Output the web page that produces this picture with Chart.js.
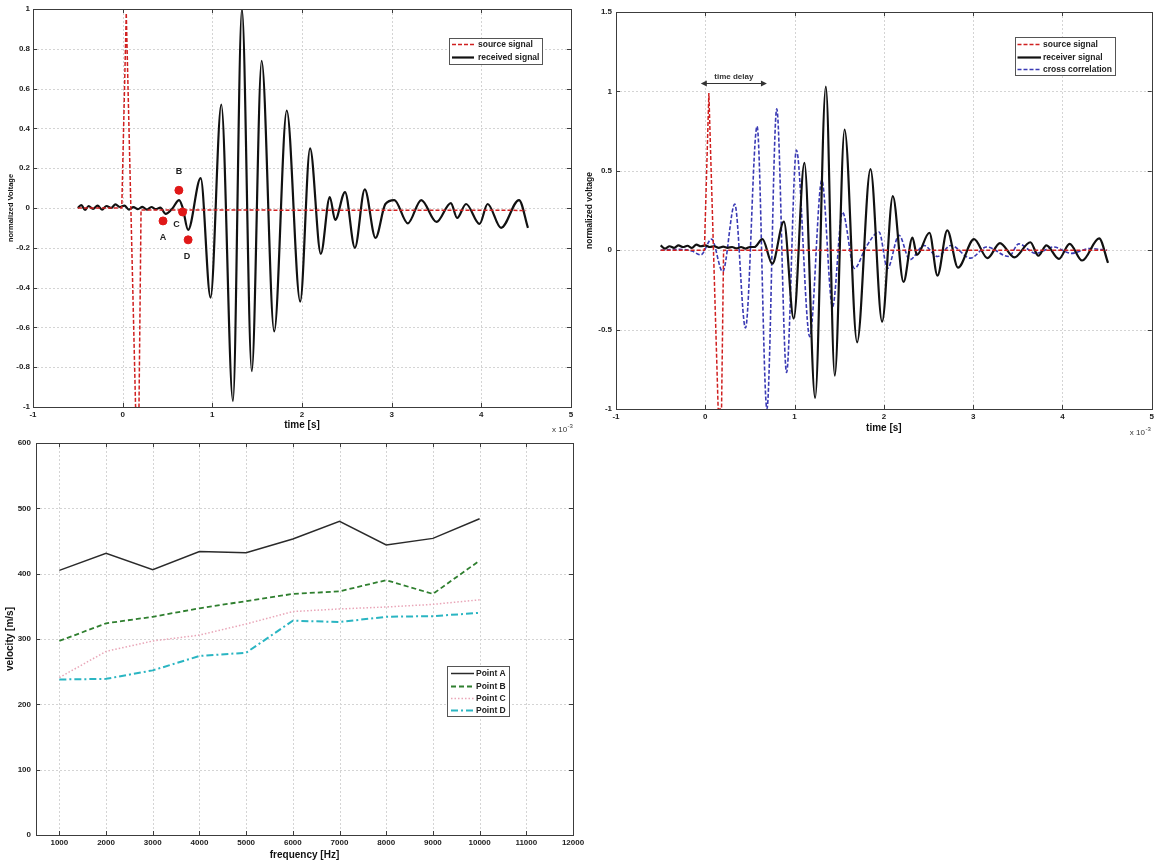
<!DOCTYPE html>
<html><head><meta charset="utf-8">
<script src="https://cdn.jsdelivr.net/npm/chart.js@4/dist/chart.umd.min.js"></script>
<style>
html,body{margin:0;padding:0;background:#fff;width:1157px;height:860px;overflow:hidden;}
canvas{position:absolute;display:block;}
</style></head><body>
<canvas id="c1" width="580" height="440" style="left:0;top:0"></canvas>
<canvas id="c2" width="577" height="440" style="left:580px;top:0"></canvas>
<canvas id="c3" width="600" height="430" style="left:0;top:430px"></canvas>
<script>
// ---------- DATA (time in units of 10^-3 s) ----------
const timeTicks = [-1, 0, 1, 2, 3, 4, 5];
const volt1Ticks = [-1, -0.8, -0.6, -0.4, -0.2, 0, 0.2, 0.4, 0.6, 0.8, 1];
const volt1Labels = ['-1', '-0.8', '-0.6', '-0.4', '-0.2', '0', '0.2', '0.4', '0.6', '0.8', '1'];
const volt2Ticks = [-1, -0.5, 0, 0.5, 1, 1.5];
const volt2Labels = ['-1', '-0.5', '0', '0.5', '1', '1.5'];

// top-left: source signal (leaves the plot at -1 between 0.144 and 0.182)
const src1T = [-0.5, -0.01, 0.04, 0.144, 0.182, 0.205, 4.5];
const src1V = [0, 0, 0.98, -1, -1, -0.01, -0.012];
// top-left: received signal (read extrema)
const recv1T = [-0.50,-0.46,-0.42,-0.38,-0.33,-0.28,-0.23,-0.18,-0.13,-0.08,-0.03,0.02,0.07,0.12,0.17,0.22,0.27,0.32,0.37,0.42,0.48,0.55,0.63,0.67,0.73,0.87,0.98,1.10,1.23,1.33,1.44,1.55,1.69,1.83,1.98,2.09,2.21,2.31,2.37,2.48,2.59,2.70,2.82,2.93,3.03,3.18,3.33,3.50,3.66,3.73,3.83,3.98,4.07,4.22,4.42,4.52];
const recv1V = [0.00,0.015,-0.01,0.01,-0.005,0.012,-0.008,0.01,0.0,0.018,0.005,0.012,-0.008,0.004,-0.006,0.006,-0.008,0.005,-0.006,0.002,-0.03,-0.005,0.04,0.0,-0.11,0.15,-0.45,0.52,-0.97,1.0,-0.82,0.74,-0.62,0.49,-0.47,0.30,-0.23,0.055,-0.06,0.08,-0.20,0.094,-0.15,0.02,0.04,-0.077,0.04,-0.07,0.025,-0.05,0.02,-0.08,0.02,-0.10,0.04,-0.10];
// marked points A-D
const markerT = [0.45, 0.627, 0.668, 0.73];
const markerV = [-0.065, 0.089, -0.02, -0.16];
const markerLabels = ['A', 'B', 'C', 'D'];

// top-right: source, receiver, cross correlation
const src2T = [-0.5, -0.01, 0.04, 0.144, 0.182, 0.205, 4.5];
const src2V = [0, 0, 0.99, -1, -1, 0, 0];
const recv2T = [-0.50,-0.45,-0.40,-0.35,-0.30,-0.25,-0.20,-0.15,-0.10,-0.05,0.00,0.05,0.10,0.15,0.20,0.25,0.30,0.35,0.40,0.45,0.50,0.55,0.64,0.75,0.88,0.99,1.11,1.23,1.35,1.45,1.56,1.70,1.85,1.98,2.10,2.22,2.32,2.37,2.51,2.60,2.71,2.83,3.01,3.16,3.30,3.46,3.64,3.73,3.82,3.96,4.08,4.22,4.41,4.51];
const recv2V = [0.03,0.01,0.025,0.015,0.03,0.02,0.028,0.015,0.035,0.025,0.03,0.02,0.025,0.015,0.022,0.015,0.02,0.012,0.02,0.01,0.02,0.02,0.07,-0.085,0.18,-0.43,0.55,-0.93,1.03,-0.79,0.76,-0.58,0.51,-0.45,0.34,-0.20,0.08,-0.03,0.11,-0.16,0.125,-0.11,0.07,-0.05,0.045,-0.045,0.05,-0.035,0.03,-0.055,0.04,-0.065,0.075,-0.08];
const xcorrT = [-0.50,-0.30,-0.15,-0.05,0.07,0.195,0.33,0.45,0.58,0.69,0.80,0.91,1.02,1.17,1.305,1.425,1.536,1.67,1.80,1.946,2.04,2.17,2.29,2.45,2.60,2.75,2.97,3.15,3.40,3.51,3.70,3.90,4.10,4.30,4.50];
const xcorrV = [0.0,0.005,-0.005,-0.03,0.07,-0.135,0.29,-0.49,0.78,-1.0,0.89,-0.77,0.63,-0.545,0.44,-0.357,0.24,-0.115,0.02,0.115,-0.115,0.094,-0.06,0.03,-0.04,0.03,-0.05,0.02,-0.04,0.04,-0.02,0.02,-0.02,0.01,0.0];
const delayRange = [-0.05, 0.69];
const delayLevel = 1.05;
const delayText = 'time delay';

// bottom: velocity vs frequency
const freqTicks = [1000,2000,3000,4000,5000,6000,7000,8000,9000,10000,11000,12000];
const velTicks = [0, 100, 200, 300, 400, 500, 600];
const frequencies = [1000,2000,3000,4000,5000,6000,7000,8000,9000,10000];
const pointA = [405, 431, 406, 434, 432, 453, 480, 444, 454, 484];
const pointB = [297, 324, 334, 347, 358, 369, 373, 390, 369, 420];
const pointC = [241, 281, 297, 306, 323, 342, 346, 349, 353, 360];
const pointD = [238, 239, 252, 274, 279, 328, 326, 334, 335, 340];

// ---------- HELPERS ----------
const FONT = '"Liberation Sans", Arial, Helvetica, sans-serif';
Chart.defaults.font.family = FONT;
const pts = (xs, ys) => xs.map((x, i) => ({x: x, y: ys[i]}));
const noCache = {borderColor: () => undefined};   // forces direct stroking of each line

function makeGrid() { return { id: 'dotGrid', beforeDatasetsDraw(chart) {
    const {ctx, chartArea} = chart; const {left, top, right, bottom} = chartArea;
    const xs = chart.scales.x, ys = chart.scales.y;
    ctx.save(); ctx.strokeStyle = '#d4d4d4'; ctx.lineWidth = 1; ctx.setLineDash([2, 2]);
    ctx.beginPath();
    xs.ticks.forEach(t => { const p = Math.round(xs.getPixelForValue(t.value)) + 0.5; ctx.moveTo(p, top); ctx.lineTo(p, bottom); });
    ys.ticks.forEach(t => { const p = Math.round(ys.getPixelForValue(t.value)) + 0.5; ctx.moveTo(left, p); ctx.lineTo(right, p); });
    ctx.stroke(); ctx.setLineDash([]); ctx.restore(); } }; }

function makeFrame() { return { id: 'frame', afterDatasetsDraw(chart) {
    const {ctx, chartArea} = chart; const {left, top, right, bottom} = chartArea;
    const xs = chart.scales.x, ys = chart.scales.y;
    ctx.save(); ctx.setLineDash([]); ctx.strokeStyle = '#3c3c3c'; ctx.lineWidth = 1; ctx.beginPath();
    xs.ticks.forEach(t => { const p = Math.round(xs.getPixelForValue(t.value)) + 0.5; ctx.moveTo(p, bottom); ctx.lineTo(p, bottom - 4); ctx.moveTo(p, top); ctx.lineTo(p, top + 4); });
    ys.ticks.forEach(t => { const p = Math.round(ys.getPixelForValue(t.value)) + 0.5; ctx.moveTo(left, p); ctx.lineTo(left + 4, p); ctx.moveTo(right, p); ctx.lineTo(right - 4, p); });
    ctx.stroke();
    ctx.strokeRect(Math.round(left) + 0.5, Math.round(top) + 0.5, Math.round(right - left), Math.round(bottom - top));
    ctx.restore(); } }; }

function makeLegend(o) { return { id: 'boxLegend', afterDraw(chart) {
    const ctx = chart.ctx; ctx.save(); ctx.setLineDash([]);
    ctx.fillStyle = '#fff'; ctx.fillRect(o.x, o.y, o.w, o.h);
    ctx.strokeStyle = '#555'; ctx.lineWidth = 1; ctx.strokeRect(o.x + 0.5, o.y + 0.5, o.w, o.h);
    ctx.font = 'bold ' + o.fontSize + 'px ' + FONT; ctx.textBaseline = 'middle'; ctx.textAlign = 'left';
    chart.data.datasets.filter(d => d.inLegend).forEach((d, i) => {
      const yy = Math.round(o.y + o.first + i * o.step) + 0.5;
      ctx.strokeStyle = d.borderColor; ctx.lineWidth = d.borderWidth; ctx.setLineDash(d.borderDash || []);
      ctx.beginPath(); ctx.moveTo(o.x + o.lineX0, yy); ctx.lineTo(o.x + o.lineX1, yy); ctx.stroke();
      ctx.setLineDash([]); ctx.fillStyle = '#222'; ctx.fillText(d.label, o.x + o.textX, yy);
    });
    ctx.restore(); } }; }

function makeExpo(dx, dy) { return { id: 'expo', afterDraw(chart) {
    const {ctx, chartArea} = chart; const x = chartArea.right + dx, y = chartArea.bottom + dy;
    ctx.save(); ctx.fillStyle = '#333'; ctx.textBaseline = 'middle'; ctx.textAlign = 'left';
    ctx.font = '8px ' + FONT; ctx.fillText('x 10', x, y);
    const w = ctx.measureText('x 10').width; ctx.font = '6px ' + FONT; ctx.fillText('-3', x + w + 0.5, y - 4);
    ctx.restore(); } }; }

function makeTags(dsIndex, labels, offsets) { return { id: 'tags', afterDatasetsDraw(chart) {
    const meta = chart.getDatasetMeta(dsIndex); const ctx = chart.ctx;
    ctx.save(); ctx.font = 'bold 9px ' + FONT; ctx.fillStyle = '#222'; ctx.textAlign = 'center'; ctx.textBaseline = 'middle';
    meta.data.forEach((el, i) => ctx.fillText(labels[i], el.x + offsets[i][0], el.y + offsets[i][1]));
    ctx.restore(); } }; }

function makeDelay(range, level, text) { return { id: 'delay', afterDatasetsDraw(chart) {
    const {ctx} = chart; const xs = chart.scales.x, ys = chart.scales.y;
    const x0 = xs.getPixelForValue(range[0]), x1 = xs.getPixelForValue(range[1]);
    const yy = Math.round(ys.getPixelForValue(level)) + 0.5;
    ctx.save(); ctx.setLineDash([]); ctx.strokeStyle = '#333'; ctx.fillStyle = '#333'; ctx.lineWidth = 1;
    ctx.beginPath(); ctx.moveTo(x0 + 2, yy); ctx.lineTo(x1 - 2, yy); ctx.stroke();
    ctx.beginPath(); ctx.moveTo(x0, yy); ctx.lineTo(x0 + 6, yy - 3); ctx.lineTo(x0 + 6, yy + 3); ctx.closePath(); ctx.fill();
    ctx.beginPath(); ctx.moveTo(x1, yy); ctx.lineTo(x1 - 6, yy - 3); ctx.lineTo(x1 - 6, yy + 3); ctx.closePath(); ctx.fill();
    ctx.font = 'bold 8px ' + FONT; ctx.textAlign = 'center'; ctx.textBaseline = 'middle';
    ctx.fillText(text, (x0 + x1) / 2, yy - 7);
    ctx.restore(); } }; }

function axis(opts) {
  return {
    type: 'linear', min: opts.min, max: opts.max,
    afterBuildTicks: s => { s.ticks = opts.ticks.map(v => ({value: v})); },
    afterFit: s => { if (opts.width) s.width = opts.width; if (opts.height) s.height = opts.height; },
    ticks: { autoSkip: false, maxRotation: 0, padding: opts.tickPad, color: '#222',
      font: {size: 8, weight: 'bold'},
      callback: (v, i) => opts.labels ? opts.labels[i] : String(v) },
    grid: {display: false, drawTicks: false},
    border: {display: false},
    title: { display: true, text: opts.title, color: '#111',
      font: {size: opts.titleSize, weight: 'bold', lineHeight: opts.titleLH || 1.2}, padding: opts.titlePad }
  };
}
const basePlugins = () => ({legend: {display: false}, tooltip: {enabled: false}, colors: {enabled: false}});

// ---------- CHART 1 ----------
new Chart(document.getElementById('c1'), {
  type: 'line',
  data: { datasets: [
    {type: 'scatter', label: 'markers', data: pts(markerT, markerV), pointRadius: 4,
     borderColor: '#e01818', backgroundColor: '#e01818', order: 0},
    {label: 'source signal', inLegend: true, data: pts(src1T, src1V), borderColor: '#d02020',
     borderDash: [4, 2], borderWidth: 1.5, pointRadius: 0, tension: 0, order: 1, segment: noCache},
    {label: 'received signal', inLegend: true, data: pts(recv1T, recv1V), borderColor: '#111',
     borderWidth: 2.2, pointRadius: 0, cubicInterpolationMode: 'monotone', order: 2, segment: noCache}
  ]},
  options: {
    responsive: false, animation: false, devicePixelRatio: 1,
    layout: {padding: {left: 0, top: 9, right: 9, bottom: 0}},
    scales: {
      x: axis({min: -1, max: 5, ticks: timeTicks, height: 33, tickPad: 3, title: 'time [s]', titleSize: 10, titlePad: {top: 0, bottom: 9}}),
      y: axis({min: -1, max: 1, ticks: volt1Ticks, labels: volt1Labels, width: 33, tickPad: 3, title: 'normalized Voltage', titleSize: 7.5, titlePad: {top: 6.5, bottom: 0}})
    },
    plugins: basePlugins()
  },
  plugins: [makeGrid(), makeFrame(), makeLegend({x: 449, y: 38, w: 93, h: 26, first: 6.3, step: 13, lineX0: 3, lineX1: 25, textX: 29, fontSize: 8.5}),
            makeExpo(-19, 23), makeTags(0, markerLabels, [[0, 17], [0, -19], [-6, 13], [-1, 17]])]
});

// ---------- CHART 2 ----------
new Chart(document.getElementById('c2'), {
  type: 'line',
  data: { datasets: [
    {label: 'source signal', inLegend: true, data: pts(src2T, src2V), borderColor: '#d02020',
     borderDash: [4, 2], borderWidth: 1.5, pointRadius: 0, tension: 0, order: 0, segment: noCache},
    {label: 'receiver signal', inLegend: true, data: pts(recv2T, recv2V), borderColor: '#111',
     borderWidth: 2.2, pointRadius: 0, cubicInterpolationMode: 'monotone', order: 1, segment: noCache},
    {label: 'cross correlation', inLegend: true, data: pts(xcorrT, xcorrV), borderColor: '#3a3ab4',
     borderDash: [4, 2], borderWidth: 1.6, pointRadius: 0, cubicInterpolationMode: 'monotone', order: 2, segment: noCache}
  ]},
  options: {
    responsive: false, animation: false, devicePixelRatio: 1,
    layout: {padding: {left: 0, top: 12, right: 5, bottom: 0}},
    scales: {
      x: axis({min: -1, max: 5, ticks: timeTicks, height: 31, tickPad: 3, title: 'time [s]', titleSize: 10, titlePad: {top: 0, bottom: 6}}),
      y: axis({min: -1, max: 1.5, ticks: volt2Ticks, labels: volt2Labels, width: 36, tickPad: 4, title: 'normalized voltage', titleSize: 8.5, titlePad: {top: 4.9, bottom: 0}})
    },
    plugins: basePlugins()
  },
  plugins: [makeGrid(), makeFrame(), makeLegend({x: 435, y: 37, w: 100, h: 38, first: 7, step: 12.5, lineX0: 2.5, lineX1: 26, textX: 28, fontSize: 8.5}),
            makeExpo(-22, 24), makeDelay(delayRange, delayLevel, delayText)]
});

// ---------- CHART 3 ----------
new Chart(document.getElementById('c3'), {
  type: 'line',
  data: { datasets: [
    {label: 'Point A', inLegend: true, data: pts(frequencies, pointA), borderColor: '#2a2a2a', borderWidth: 1.5, pointRadius: 0, tension: 0, segment: noCache},
    {label: 'Point B', inLegend: true, data: pts(frequencies, pointB), borderColor: '#2f7f2f', borderDash: [5, 3], borderWidth: 1.8, pointRadius: 0, tension: 0, segment: noCache},
    {label: 'Point C', inLegend: true, data: pts(frequencies, pointC), borderColor: '#e9a6b8', borderDash: [1.5, 2], borderWidth: 1.5, pointRadius: 0, tension: 0, segment: noCache},
    {label: 'Point D', inLegend: true, data: pts(frequencies, pointD), borderColor: '#2ab5c2', borderDash: [7, 3, 2, 3], borderWidth: 2, pointRadius: 0, tension: 0, segment: noCache}
  ]},
  options: {
    responsive: false, animation: false, devicePixelRatio: 1,
    layout: {padding: {left: 0, top: 13, right: 27, bottom: 0}},
    scales: {
      x: axis({min: 500, max: 12000, ticks: freqTicks, height: 25, tickPad: 3, title: 'frequency [Hz]', titleSize: 10, titleLH: 1, titlePad: {top: 0, bottom: 0}}),
      y: axis({min: 0, max: 600, ticks: velTicks, width: 36, tickPad: 5, title: 'velocity [m/s]', titleSize: 10, titlePad: {top: 4.7, bottom: 0}})
    },
    plugins: basePlugins()
  },
  plugins: [makeGrid(), makeFrame(), makeLegend({x: 447, y: 236, w: 62, h: 50, first: 7.3, step: 12.3, lineX0: 4, lineX1: 27, textX: 29, fontSize: 8.5})]
});
</script>
</body></html>
